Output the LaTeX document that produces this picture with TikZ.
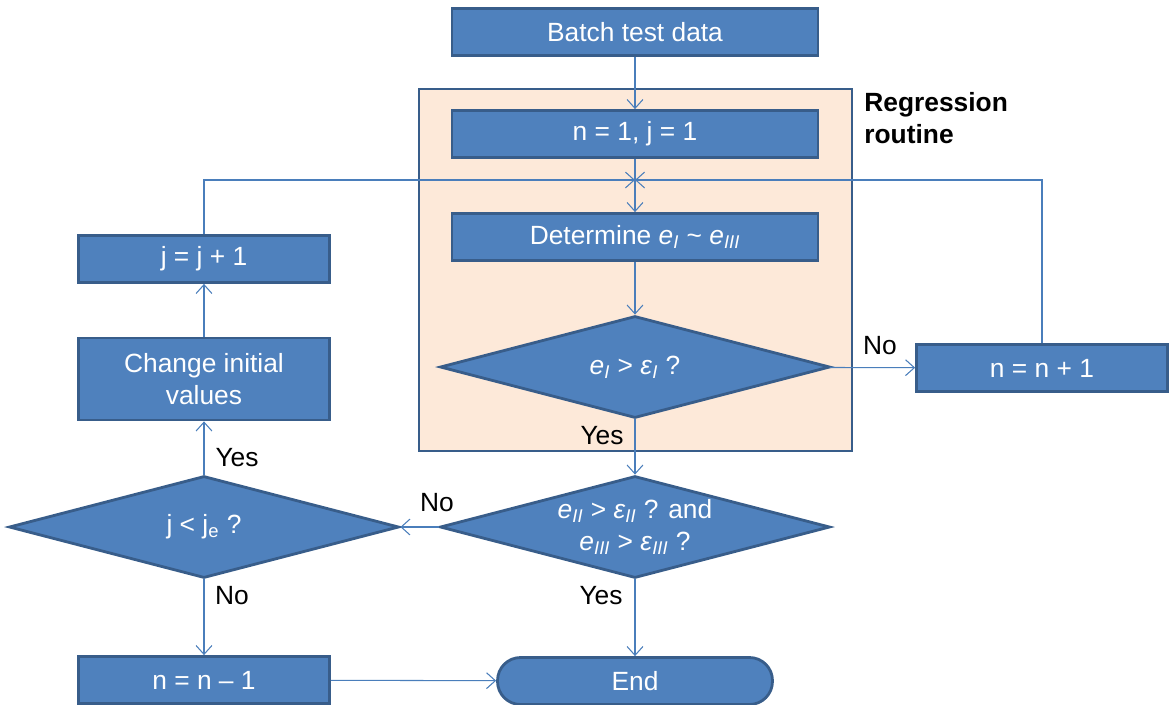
\documentclass[tikz,border=0pt]{standalone}
\usepackage{fontspec}
\setmainfont{Liberation Sans}
\usetikzlibrary{shapes.geometric,arrows.meta}
\definecolor{boxfill}{HTML}{4F81BD}
\definecolor{boxline}{HTML}{385D8A}
\definecolor{flowcolor}{HTML}{4A7EBB}
\definecolor{routinebg}{HTML}{FDE9D9}
\newcommand{\ee}[1]{\textit{e}\textsubscript{\textit{#1}}}
\newcommand{\eps}[1]{\textit{ε}\textsubscript{\textit{#1}}}

\tikzset{
  procbox/.style={draw=boxline,line width=1.6pt,fill=boxfill,text=white,
    minimum width=7.32cm,minimum height=0.94cm,inner sep=0pt,align=center},
  sidebox/.style={procbox,minimum width=5.02cm},
  decision/.style={diamond,draw=boxline,line width=1.6pt,fill=boxfill,text=white,
    aspect=3.8,inner sep=0pt,minimum width=7.8cm,minimum height=2.04cm,align=center},
  endbox/.style={procbox,minimum width=5.5cm,rounded corners=0.46cm},
  flowline/.style={draw=flowcolor,line width=0.6pt,-{Straight Barb[length=5pt,width=9pt]}},
  lbl/.style={text=black,inner sep=0pt}
}

\begin{document}
\begin{tikzpicture}[x=0.02cm,y=-0.02cm,font=\fontsize{15}{18}\selectfont]
  \useasboundingbox (0,0) rectangle (1172,704);

  % regression routine frame
  \draw[draw=boxline,line width=1.6pt,fill=routinebg] (419,89) rectangle (852,451);
  \node[lbl,anchor=north west,align=left,font=\fontsize{15}{18}\selectfont\bfseries]
    (routine) at (864,92) {Regression\\routine};

  % main column
  \node[procbox] (batch) at (635,32) {Batch test data};
  \node[procbox] (init) at (635,134) {n = 1, j = 1};
  \coordinate (junc) at (635,180);
  \node[procbox] (determine) at (635,237) {Determine \ee{I} \textasciitilde\ \ee{III}};
  \node[decision] (checkI) at (635,367) {\ee{I} > \eps{I} ?};
  \node[decision] (checkII) at (635,527)
    {\ee{II} > \eps{II} ? and\\\ee{III} > \eps{III} ?};
  \node[endbox] (finish) at (635,681) {End};

  % right side
  \node[sidebox] (nplus) at (1042,368) {n = n + 1};

  % left column
  \node[decision] (checkj) at (204,527) {j < j\textsubscript{e} ?};
  \node[procbox,minimum width=5.02cm,minimum height=1.64cm] (change) at (204,379)
    {Change initial\\values};
  \node[sidebox] (jplus) at (204,259) {j = j + 1};
  \node[sidebox] (nminus) at (204,680) {n = n -- 1};

  % connectors
  \draw[flowline] (batch) -- (init);
  \draw[flowline] (init) -- (determine);
  \draw[flowline] (determine) -- (checkI);
  \draw[flowline] (checkI) -- (checkII);
  \draw[flowline] (checkI) -- (nplus);
  \draw[flowline] (nplus.north) |- (junc);
  \draw[flowline] (checkII) -- (finish);
  \draw[flowline] (checkII) -- (checkj);
  \draw[flowline] (checkj) -- (change);
  \draw[flowline] (change) -- (jplus);
  \draw[flowline] (jplus.north) |- (junc);
  \draw[flowline] (checkj) -- (nminus);
  \draw[flowline] (nminus) -- (finish);

  % branch labels
  \node[lbl] (yesI) at (602,436) {Yes};
  \node[lbl] (noI) at (880,346) {No};
  \node[lbl] (yesII) at (601,596) {Yes};
  \node[lbl] (noII) at (437,503) {No};
  \node[lbl] (yesj) at (237,458) {Yes};
  \node[lbl] (noj) at (232,596) {No};
\end{tikzpicture}
\end{document}
